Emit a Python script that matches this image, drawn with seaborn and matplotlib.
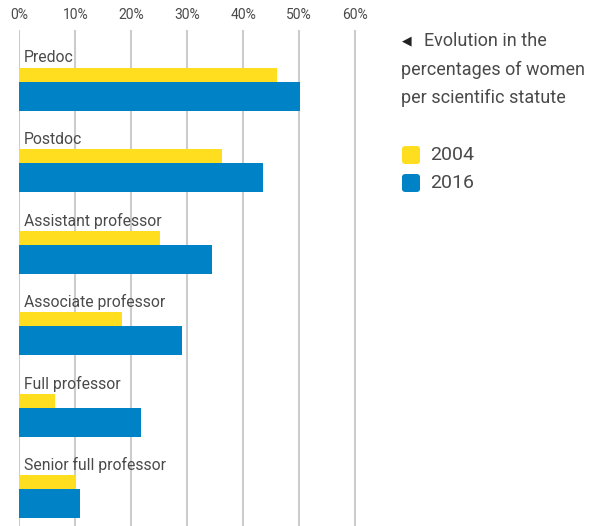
import matplotlib
matplotlib.use("Agg")
import matplotlib.pyplot as plt
import seaborn as sns
from matplotlib.patches import FancyBboxPatch

categories = ["Predoc", "Postdoc", "Assistant professor", "Associate professor",
              "Full professor", "Senior full professor"]
values_2004 = [46.0, 36.2, 25.1, 18.4, 6.4, 10.1]
values_2016 = [50.1, 43.5, 34.4, 29.1, 21.7, 10.8]
series_labels = ["2004", "2016"]
tick_values = [0, 10, 20, 30, 40, 50, 60]
tick_labels = ["0%", "10%", "20%", "30%", "40%", "50%", "60%"]
title_lines = ["Evolution in the", "percentages of women", "per scientific statute"]

YELLOW = "#FFDD1F"
BLUE = "#0082C6"
TEXT = "#4a4a4a"
GRID = "#cccccc"

sns.set_theme(style="white")
FONT = ["Roboto", "DejaVu Sans"]
plt.rcParams["font.family"] = FONT

W, H = 600, 526
fig = plt.figure(figsize=(W / 100, H / 100), dpi=100)
x0_px, px_per_unit = 19.3, 5.6
xmax = 61
top_px = 30
ax = fig.add_axes([x0_px / W, 0, xmax * px_per_unit / W, (H - top_px) / H])

sns.barplot(x=values_2004, y=categories, color=YELLOW, orient="h", ax=ax,
            saturation=1, width=0.2)
n_y = len(ax.patches)
sns.barplot(x=values_2016, y=categories, color=BLUE, orient="h", ax=ax,
            saturation=1, width=0.2)

spacing = 81.4
y_h = 14 / spacing
b_h = 29 / spacing
group = y_h + b_h
for k, p in enumerate(ax.patches):
    i = k % len(categories)
    if k < n_y:
        p.set_y(i - group / 2)
        p.set_height(y_h)
    else:
        p.set_y(i - group / 2 + y_h)
        p.set_height(b_h)
    p.set_linewidth(0)

ax.set_xlim(0, xmax)
ax.set_ylim((H - 89.5) / spacing, -(89.5 - top_px) / spacing)
for s in ax.spines.values():
    s.set_visible(False)
ax.set_yticks([])
ax.set_ylabel("")
ax.set_xlabel("")
ax.xaxis.tick_top()
ax.set_xticks(tick_values)
ax.set_xticklabels(tick_labels)
ax.tick_params(axis="x", length=0, pad=5.5, labelsize=10, labelcolor=TEXT)
ax.grid(axis="x", color=GRID, linewidth=1.5)
ax.set_axisbelow(True)

for i, c in enumerate(categories):
    ax.text(0.8, i - group / 2 - 10 / spacing, c, va="center", ha="left",
            fontsize=11.3, color=TEXT)

# legend / title block
def fy(py):
    return 1 - py / H

fig.text(402 / W, fy(41), "\u25c0", fontsize=9, color="#222222",
         va="center", ha="left", family=["DejaVu Sans"])
fig.text(424 / W, fy(41), title_lines[0], fontsize=13, color=TEXT,
         va="center", ha="left")
fig.text(401 / W, fy(70), title_lines[1], fontsize=13, color=TEXT,
         va="center", ha="left")
fig.text(401 / W, fy(98), title_lines[2], fontsize=13, color=TEXT,
         va="center", ha="left")

for lab, col, cy in zip(series_labels, [YELLOW, BLUE], [155, 183]):
    fig.patches.append(FancyBboxPatch((402 / W, fy(cy + 9)), 18 / W, 18 / H,
                                      boxstyle="round,pad=0,rounding_size=0.006",
                                      transform=fig.transFigure, facecolor=col,
                                      edgecolor="none"))
    fig.text(430 / W, fy(cy), lab, fontsize=14, color=TEXT,
             va="center", ha="left")

fig.savefig("out.png", dpi=100)
